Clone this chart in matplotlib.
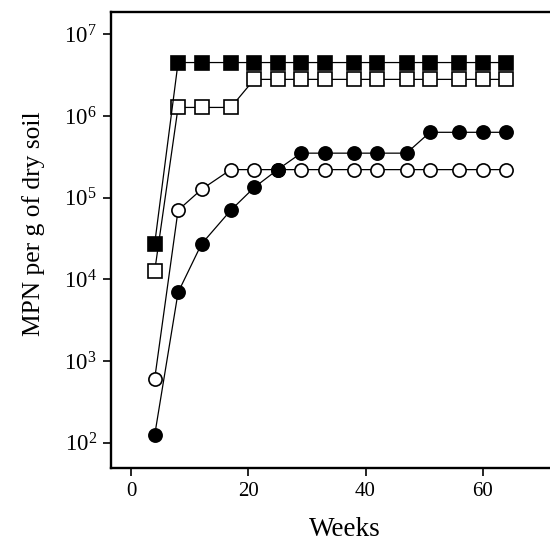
import matplotlib
matplotlib.use("Agg")
import matplotlib.pyplot as plt
from matplotlib.ticker import LogLocator, NullLocator

weeks = [4, 8, 12, 17, 21, 25, 29, 33, 38, 42, 47, 51, 56, 60, 64]

filled_sq = [2.7e4, 4.5e6, 4.5e6, 4.5e6, 4.5e6, 4.5e6, 4.5e6, 4.5e6,
             4.5e6, 4.5e6, 4.5e6, 4.5e6, 4.5e6, 4.5e6, 4.5e6]
open_sq = [1.25e4, 1.27e6, 1.27e6, 1.27e6, 2.8e6, 2.8e6, 2.8e6, 2.8e6,
           2.8e6, 2.8e6, 2.8e6, 2.8e6, 2.8e6, 2.8e6, 2.8e6]
open_circ = [6.0e2, 7.0e4, 1.26e5, 2.2e5, 2.2e5, 2.2e5, 2.2e5, 2.2e5,
             2.2e5, 2.2e5, 2.2e5, 2.2e5, 2.2e5, 2.2e5, 2.2e5]
filled_circ = [1.23e2, 6.9e3, 2.7e4, 7.0e4, 1.33e5, 2.2e5, 3.5e5, 3.5e5,
               3.5e5, 3.5e5, 3.5e5, 6.3e5, 6.3e5, 6.3e5, 6.3e5]

plt.rcParams["font.family"] = "Liberation Serif"
plt.rcParams["mathtext.fontset"] = "custom"
plt.rcParams["mathtext.rm"] = "Liberation Serif"
plt.rcParams["mathtext.it"] = "Liberation Serif:italic"

fig = plt.figure(figsize=(5.5, 5.41), dpi=100)
ax = fig.add_axes([0.2013, 0.1355, 0.7987, 0.8423])

line_kw = dict(color="black", linewidth=0.9, markeredgewidth=1.2,
               markeredgecolor="black")
ax.plot(weeks, open_circ, marker="o", markersize=9.5, markerfacecolor="white", **line_kw)
ax.plot(weeks, filled_circ, marker="o", markersize=9.5, markerfacecolor="black", **line_kw)
ax.plot(weeks, open_sq, marker="s", markersize=9.5, markerfacecolor="white", **line_kw)
ax.plot(weeks, filled_sq, marker="s", markersize=10, markerfacecolor="black", **line_kw)

ax.set_yscale("log")
ax.set_xlim(-3.5, 71.5)
ax.set_ylim(49.4, 1.87e7)
ax.set_xticks([0, 20, 40, 60])
ax.yaxis.set_major_locator(LogLocator(base=10, numticks=10))
ax.yaxis.set_minor_locator(NullLocator())

for side in ["left", "bottom", "top"]:
    ax.spines[side].set_linewidth(1.7)
ax.spines["right"].set_visible(False)

ax.tick_params(axis="both", which="major", direction="out", length=6,
               width=1.2, pad=4)
ax.tick_params(axis="x", labelsize=15)
ax.tick_params(axis="y", labelsize=16.5)

ax.set_xlabel("Weeks", fontsize=19.5)
ax.set_ylabel("MPN per g of dry soil", fontsize=18.4)
ax.xaxis.set_label_coords(0.533, -0.108)
ax.yaxis.set_label_coords(-0.15, 0.535)

fig.savefig("out.png", dpi=100)
